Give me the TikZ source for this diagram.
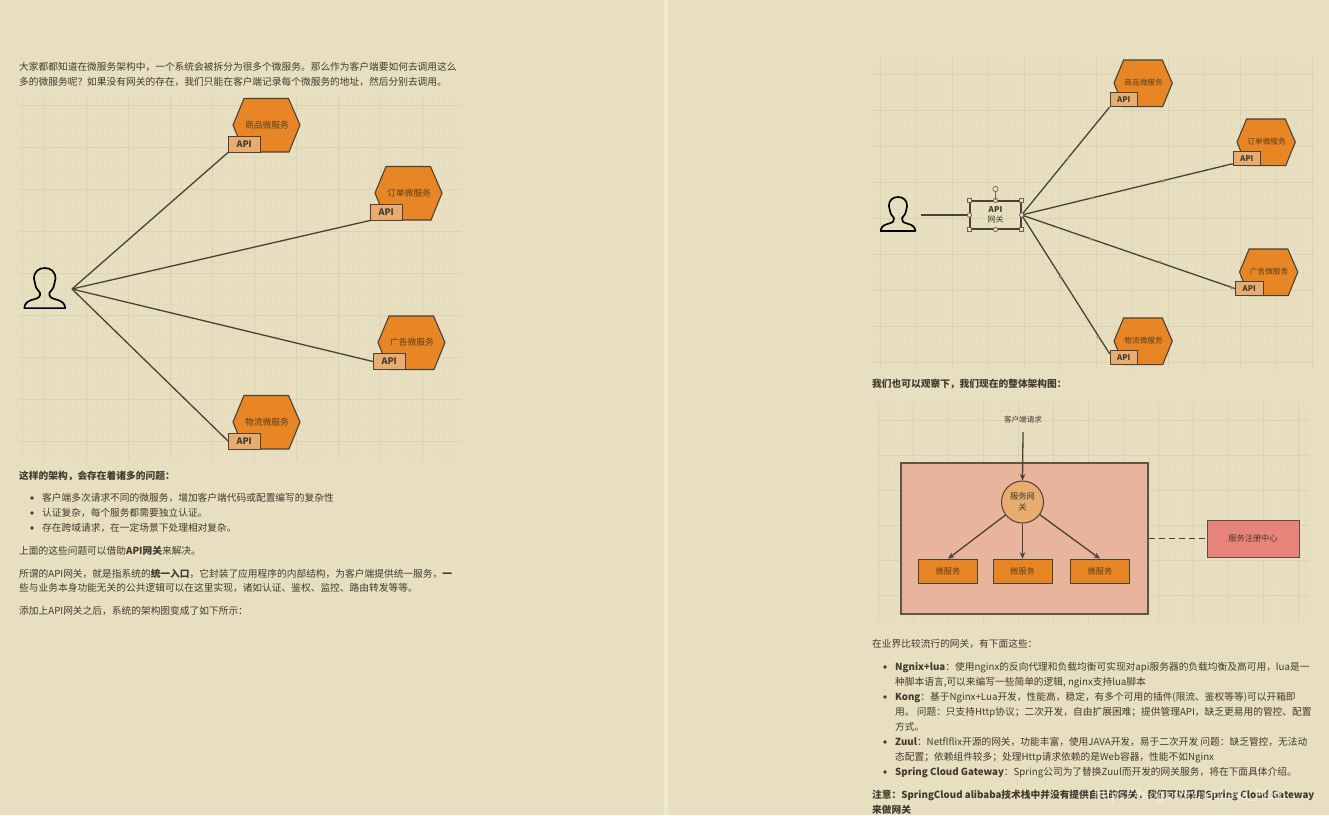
\documentclass[tikz,border=0pt]{standalone}
\usepackage{fontspec}
\setmainfont{Noto Sans CJK SC}
\usepackage{tikz}
\usetikzlibrary{arrows.meta}

\definecolor{pagebg}{HTML}{E7DFBF}
\definecolor{gutterbg}{HTML}{F0E8CD}
\definecolor{gridlo}{HTML}{E2DBBB}
\definecolor{gridhi}{HTML}{DAD3B3}
\definecolor{inkline}{HTML}{4A4238}
\definecolor{inktext}{HTML}{3F3B30}
\definecolor{svctext}{HTML}{5A3F1C}
\definecolor{svcorange}{HTML}{E88625}
\definecolor{apisand}{HTML}{E8AD6E}
\definecolor{zonepink}{HTML}{E8B49C}
\definecolor{regred}{HTML}{E8837A}
\definecolor{handlepink}{HTML}{C9776C}

\tikzset{
  para/.style={anchor=west, inner sep=0pt, yshift=-.2pt, text=inktext, font=\fontsize{9.72}{12}\selectfont},
  parab/.style={para, font=\fontsize{9.72}{12}\selectfont\bfseries},
  apibox/.style={draw=inkline, fill=apisand, line width=1pt, minimum width=31.5pt, minimum height=16pt, inner sep=0pt, transform shape, text=inktext, font=\fontsize{9}{10}\selectfont\bfseries},
  hextext/.style={inner sep=0pt, transform shape, text=svctext, font=\fontsize{8.8}{10}\selectfont},
  svcbox/.style={draw=inkline, fill=svcorange, line width=1pt, minimum width=59pt, minimum height=24.5pt, inner sep=0pt, text=svctext, font=\fontsize{8.2}{10}\selectfont},
  wire/.style={draw=inkline, line width=1.3pt},
  handle/.style={fill=pagebg, draw=inkline!55!handlepink, line width=.7pt},
}

% one service: hexagon with its API tag
\newcommand{\svchex}[5]{%
  \begin{scope}[shift={(#2,#3)}, scale=#4]
    \filldraw[fill=svcorange, draw=inkline, line width=1.1pt]
      (11,0) -- (55.5,0) -- (67,26.5) -- (56,53.5) -- (11,53.5) -- (0,26.5) -- cycle;
    \node[hextext] (#1txt) at (34,26.5) {#5};
    \node[apibox] (#1api) at (11.25,45.5) {API};
  \end{scope}
}
% head and shoulders outline
\newcommand{\usericon}[3]{%
  \begin{scope}[shift={(#1,#2)}, scale=#3]
    \draw[black, line width=1.7pt, line join=round]
      (.7,34) .. controls (1,30) and (3,28) .. (9,26.5) .. controls (13,25.5) and (14.5,24) .. (14,21)
      .. controls (13,19) and (10.5,18) .. (10,14) .. controls (9.5,12) and (8.9,11) .. (8.9,9)
      .. controls (8.9,3) and (13,0) .. (18,0) .. controls (23,0) and (27.1,3) .. (27.1,9)
      .. controls (27.1,11) and (26.5,12) .. (26,14) .. controls (25.5,18) and (23,19) .. (22,21)
      .. controls (21.5,24) and (23,25.5) .. (27,26.5) .. controls (33,28) and (35,30) .. (35.3,34) -- cycle;
  \end{scope}
}
% squared paper: x, y, width, height, first line x, first line y, big square
\newcommand{\gridpanel}[7]{%
  \begin{scope}
    \clip (#1,#2) rectangle ++(#3,#4);
    \foreach \i in {0,...,60} {
      \pgfmathsetmacro{\gx}{#5+#7/4*\i}
      \pgfmathsetmacro{\gy}{#6+#7/4*\i}
      \draw[gridlo, line width=.7pt] (\gx,#2) -- ++(0,#4);
      \draw[gridlo, line width=.7pt] (#1,\gy) -- ++(#3,0);
    }
    \foreach \i in {0,...,15} {
      \pgfmathsetmacro{\gx}{#5+#7*\i}
      \pgfmathsetmacro{\gy}{#6+#7*\i}
      \draw[gridhi, line width=.8pt] (\gx,#2) -- ++(0,#4);
      \draw[gridhi, line width=.8pt] (#1,\gy) -- ++(#3,0);
    }
  \end{scope}
}

\begin{document}
\begin{tikzpicture}[x=1pt, y=-1pt, >={Stealth[length=6.5pt,width=5.5pt]}]

  \useasboundingbox (0,0) rectangle (1329,815);
  \fill[pagebg] (0,0) rectangle (1329,815);
  \fill[gutterbg] (664,0) rectangle (668,815);

  % ---------- Left page text ----------
  \node[para] (introA) at (19,67) {大家都都知道在微服务架构中，一个系统会被拆分为很多个微服务。那么作为客户端要如何去调用这么};
  \node[para] (introB) at (19,82) {多的微服务呢？如果没有网关的存在，我们只能在客户端记录每个微服务的地址，然后分别去调用。};

  \node[parab] (issueHead) at (19,476) {这样的架构，会存在着诸多的问题：};
  \node[para] (issueA) at (42,498) {客户端多次请求不同的微服务，增加客户端代码或配置编写的复杂性};
  \node[para] (issueB) at (42,513) {认证复杂，每个服务都需要独立认证。};
  \node[para] (issueC) at (42,528) {存在跨域请求，在一定场景下处理相对复杂。};
  \foreach \y in {498,513,528} \fill[inktext] (32,\y) circle (1.9);

  \node[para] (solveA) at (19,551) {上面的这些问题可以借助\textbf{API网关}来解决。};
  \node[para] (solveB) at (19,573.5) {所谓的API网关，就是指系统的\textbf{统一入口}，它封装了应用程序的内部结构，为客户端提供统一服务，\textbf{一}};
  \node[para] (solveC) at (19,588) {些与业务本身功能无关的公共逻辑可以在这里实现，诸如认证、鉴权、监控、路由转发等等。};
  \node[para] (solveD) at (19,611) {添加上API网关之后，系统的架构图变成了如下所示：};

  % ---------- Left diagram: client to each service ----------
  \gridpanel{19}{95}{442}{365}{2.3}{63}{42}
  \svchex{lgoods}{233}{98.5}{1}{商品微服务}
  \svchex{lorder}{375}{166.5}{1}{订单微服务}
  \svchex{lads}{378}{316}{1}{广告微服务}
  \svchex{lship}{233}{395.5}{1}{物流微服务}
  \usericon{23.5}{268}{1.18}
  \coordinate (luser) at (72,289);
  \draw[wire] (luser) -- (lgoodsapi.south west);
  \draw[wire] (luser) -- (lorderapi.south west);
  \draw[wire] (luser) -- (ladsapi.west);
  \draw[wire] (luser) -- (lshipapi.west);

  % ---------- Right diagram: client through the gateway ----------
  \gridpanel{872}{57}{442}{312}{844}{38}{36}
  \svchex{rgoods}{1114}{60}{.87}{商品微服务}
  \svchex{rorder}{1237}{119}{.87}{订单微服务}
  \svchex{rads}{1239.5}{249}{.87}{广告微服务}
  \svchex{rship}{1114}{318}{.87}{物流微服务}
  \usericon{880}{197}{1}
  \coordinate (ruser) at (921,215);
  \node[draw=inkline, line width=1.2pt, minimum width=51pt, minimum height=28pt, inner sep=0pt, align=center, text=inktext, font=\fontsize{8}{10}\selectfont] (gw) at (995.5,215) {\textbf{API}\\网关};
  \draw[wire] (ruser) -- (gw.west);
  \draw[wire] (gw.east) -- (rgoodsapi.south west);
  \draw[wire] (gw.east) -- (rorderapi.200);
  \draw[wire] (gw.east) -- (radsapi.west);
  \draw[wire] (gw.east) -- (rshipapi.165);

  % selection handles
  \foreach \p in {gw.north west,gw.north east,gw.south west,gw.south east}
    \filldraw[handle] (\p) ++(-2.2,-2.2) rectangle ++(4.4,4.4);
  \foreach \p in {gw.north,gw.south,gw.west,gw.east}
    \filldraw[handle] (\p) circle (2.2);
  \draw[inkline!55!handlepink, line width=.7pt] (995.5,191.6) -- (gw.north);
  \filldraw[handle] (995.5,189) circle (2.6);
  \foreach \p in {(1068,158),(1092,198),(1163,181),(1091,239),(1160,262),(1232,288),(1060,277),(1098,337)}
    \fill[handlepink] \p circle (1.7);

  % ---------- Right page text ----------
  \node[parab] (viewHead) at (872,384) {我们也可以观察下，我们现在的整体架构图：};

  % ---------- Overall architecture ----------
  \gridpanel{876}{402}{433}{220}{843}{385}{35}
  \node[draw=inkline!85!zonepink, fill=zonepink, line width=1.1pt, minimum width=247pt, minimum height=151pt, inner sep=0pt] (zone) at (1024.5,538.5) {};
  \node[draw=inkline!85!regred, fill=regred, line width=1pt, minimum width=92pt, minimum height=37pt, inner sep=0pt, text=inktext, font=\fontsize{8.2}{10}\selectfont] (registry) at (1253,538.5) {服务注册中心};
  \node[inner sep=0pt, text=inktext, font=\fontsize{7.6}{10}\selectfont] (request) at (1023,419.5) {客户端请求};
  \node[circle, draw=inkline, fill=apisand, line width=1pt, minimum size=42pt, inner sep=0pt, align=center, text=inktext, font=\fontsize{8.3}{10.7}\selectfont] (gate) at (1022.5,502) {服务网\\关};
  \node[svcbox] (svcA) at (948,571.5) {微服务};
  \node[svcbox] (svcB) at (1022.5,571.5) {微服务};
  \node[svcbox] (svcC) at (1100,571.5) {微服务};
  \coordinate (reqend) at (1023,432);
  \draw[wire, ->] (reqend) -- (gate.north);
  \draw[wire, ->] (gate) -- (svcA.north);
  \draw[wire, ->] (gate) -- (svcB.north);
  \draw[wire, ->] (gate) -- (svcC.north);
  \draw[wire, dash pattern=on 6pt off 4pt] (zone.east) -- (registry.west);

  % ---------- Gateway list ----------
  \node[para] (listHead) at (872,644) {在业界比较流行的网关，有下面这些：};
  \node[para] (itemA) at (895,667) {\textbf{Ngnix+lua}：使用nginx的反向代理和负载均衡可实现对api服务器的负载均衡及高可用，lua是一};
  \node[para] (itemB) at (895,682) {种脚本语言,可以来编写一些简单的逻辑, nginx支持lua脚本};
  \node[para] (itemC) at (895,697) {\textbf{Kong}：基于Nginx+Lua开发，性能高，稳定，有多个可用的插件(限流、鉴权等等)可以开箱即};
  \node[para] (itemD) at (895,712) {用。 问题：只支持Http协议；二次开发，自由扩展困难；提供管理API，缺乏更易用的管控、配置};
  \node[para] (itemE) at (895,727) {方式。};
  \node[para] (itemF) at (895,742) {\textbf{Zuul}：Netflflix开源的网关，功能丰富，使用JAVA开发，易于二次开发 问题：缺乏管控，无法动};
  \node[para] (itemG) at (895,757) {态配置；依赖组件较多；处理Http请求依赖的是Web容器，性能不如Nginx};
  \node[para] (itemH) at (895,772) {\textbf{Spring Cloud Gateway}：Spring公司为了替换Zuul而开发的网关服务，将在下面具体介绍。};
  \foreach \y in {667,697,742,772} \fill[inktext] (885,\y) circle (1.9);
  \node[parab] (noteA) at (872,795) {注意：SpringCloud alibaba技术栈中并没有提供自己的网关，我们可以采用Spring Cloud Gateway};
  \node[parab] (noteB) at (872,810) {来做网关};

  % ---------- Footer ----------
  \node[anchor=west, inner sep=0pt, white, opacity=.7, font=\fontsize{12.5}{14}\selectfont] (mark) at (1094,796) {https://blog.csdn.net/Java\_Pluto};

\end{tikzpicture}
\end{document}
